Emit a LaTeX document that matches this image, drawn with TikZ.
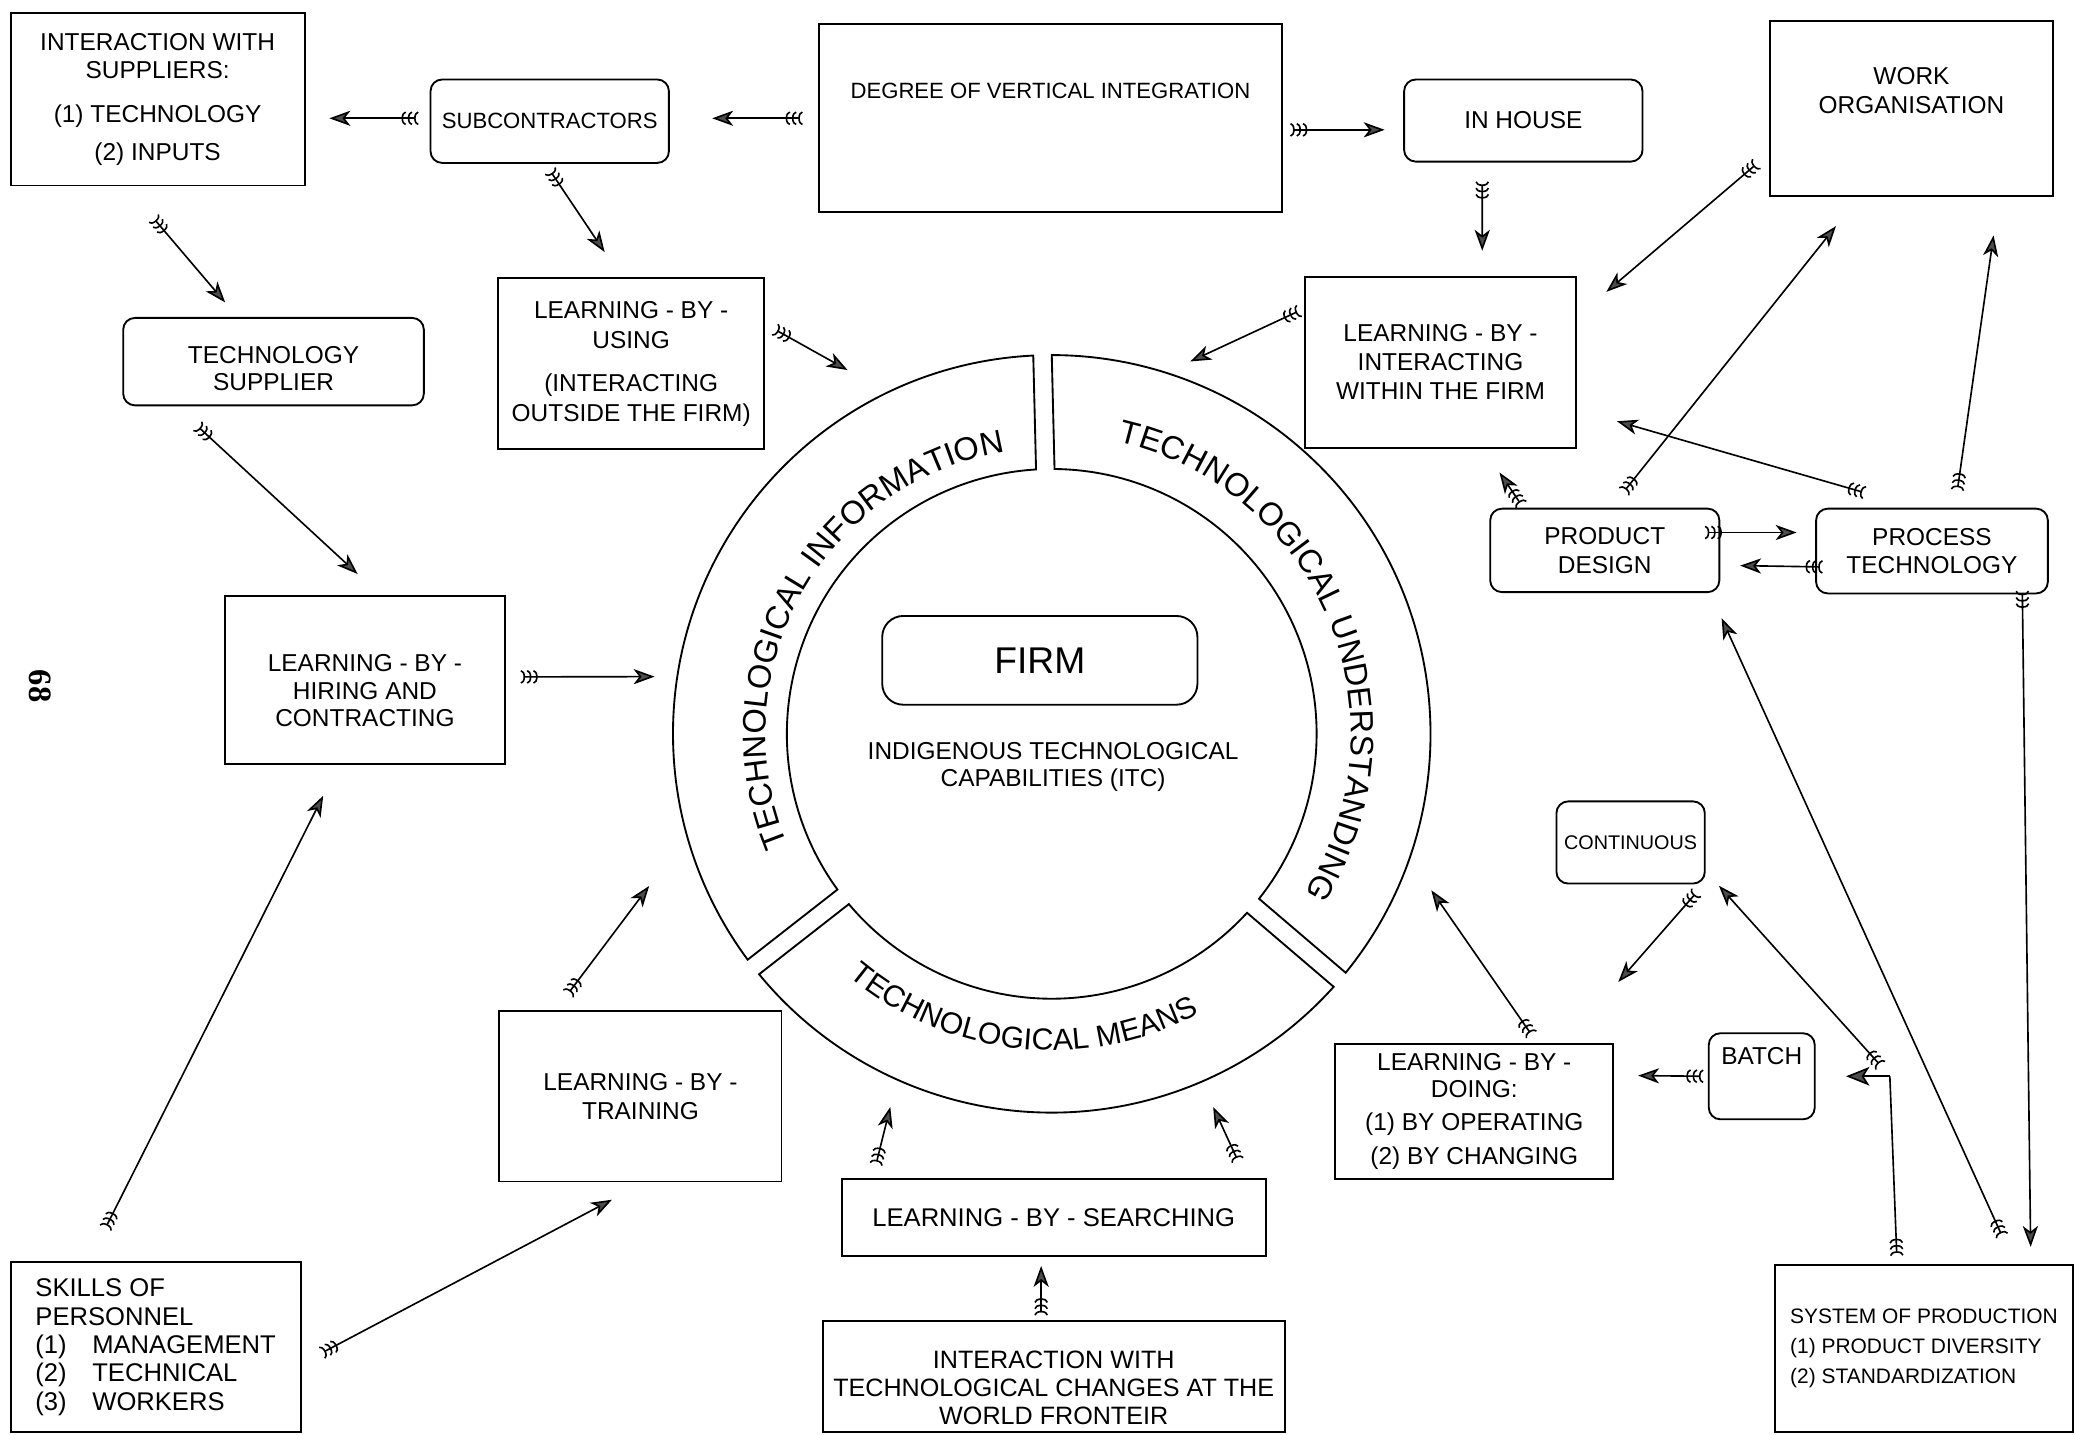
\documentclass[tikz,border=0pt]{standalone}
\usepackage{fontspec}
\setmainfont{Liberation Sans}
\newfontfamily\pgnumfont{Liberation Serif}
\usetikzlibrary{arrows.meta,calc,decorations.text}

\begin{document}
\begin{tikzpicture}[
    x=0.02cm, y=0.02cm,
    box/.style={draw, line width=0.8pt, align=center, inner sep=0pt,
      font=\fontsize{10.5}{12}\selectfont},
    rbox/.style={box, rounded corners=5pt},
    flow/.style={line width=0.7pt, arrows={{Arc Barb[reversed,length=1.8pt,width=6pt,sep=0.9pt]Arc Barb[reversed,length=1.8pt,width=6pt,sep=0.9pt]Arc Barb[reversed,length=1.8pt,width=6pt,sep=0.9pt]}-{Stealth[length=9pt,width=6.5pt,inset=2.5pt,fill=black!70]}}},
    tailonly/.style={line width=0.7pt, arrows={{Arc Barb[reversed,length=1.8pt,width=6pt,sep=0.9pt]Arc Barb[reversed,length=1.8pt,width=6pt,sep=0.9pt]Arc Barb[reversed,length=1.8pt,width=6pt,sep=0.9pt]}-}},
    headonly/.style={line width=0.7pt, arrows={-{Stealth[length=10pt,width=8pt,inset=2.5pt,fill=black!70]}}},
    part/.style={draw, line width=0.8pt},
    ringtext/.style 2 args={decorate, decoration={text along path, text align=center,
      text={|\fontsize{#1}{16}\selectfont|#2}}},
  ]
  \useasboundingbox (0,0) rectangle (1568,-1083);

  \node[box, minimum width=4.44cm, minimum height=2.6cm] (supp) at (119,-75)
    {INTERACTION WITH\\SUPPLIERS:\\[7pt](1) TECHNOLOGY\\[4pt](2) INPUTS};
  \node[rbox, minimum width=3.6cm, minimum height=1.26cm, font=\fontsize{9.5}{11}\selectfont] (subc) at (415,-91.5) {SUBCONTRACTORS};
  \node[box, minimum width=7cm, minimum height=2.84cm, font=\fontsize{9.5}{11}\selectfont,
    text height=7pt, text depth=24pt] (degree) at (793,-89) {DEGREE OF VERTICAL INTEGRATION};
  \node[rbox, minimum width=3.6cm, minimum height=1.24cm] (inhouse) at (1150,-91) {IN HOUSE};
  \node[box, minimum width=4.28cm, minimum height=2.64cm, font=\fontsize{10.5}{12.5}\selectfont,
    text height=20pt, text depth=15.5pt] (workorg) at (1443,-82) {WORK\\ORGANISATION};
  \node[rbox, minimum width=4.54cm, minimum height=1.32cm, font=\fontsize{10.5}{11.5}\selectfont,
    text height=24.5pt, text depth=0pt] (techsup) at (206.5,-273) {TECHNOLOGY\\SUPPLIER};
  \node[box, minimum width=4.02cm, minimum height=2.58cm, font=\fontsize{10.5}{12.9}\selectfont] (lbu) at (476.5,-274.5)
    {LEARNING - BY -\\USING\\[5.5pt](INTERACTING\\OUTSIDE THE FIRM)};
  \node[box, minimum width=4.1cm, minimum height=2.58cm, font=\fontsize{10.5}{12.5}\selectfont] (lbi) at (1087.5,-273.5)
    {LEARNING - BY -\\INTERACTING\\WITHIN THE FIRM};
  \node[box, minimum width=4.22cm, minimum height=2.54cm, font=\fontsize{10.5}{11.8}\selectfont,
    text height=40pt, text depth=0pt] (lbh) at (275.5,-513.5)
    {LEARNING - BY -\\HIRING AND\\CONTRACTING};
  \node[rbox, minimum width=3.46cm, minimum height=1.26cm, font=\fontsize{10.5}{12.2}\selectfont] (design) at (1211.5,-415.5) {PRODUCT\\DESIGN};
  \node[rbox, minimum width=3.5cm, minimum height=1.28cm, font=\fontsize{10.5}{12.2}\selectfont] (process) at (1458.5,-416) {PROCESS\\TECHNOLOGY};
  \node[rbox, minimum width=2.24cm, minimum height=1.24cm, font=\fontsize{8.5}{10}\selectfont] (cont) at (1231,-636) {CONTINUOUS};
  \node[rbox, minimum width=1.6cm, minimum height=1.3cm, text height=7.5pt, text depth=18pt] (batch) at (1330,-812.5) {BATCH};
  \node[box, minimum width=4.2cm, minimum height=2.04cm, font=\fontsize{10.5}{11.5}\selectfont] (lbd) at (1113,-839)
    {LEARNING - BY -\\DOING:\\[3pt](1) BY OPERATING\\[3pt](2) BY CHANGING};
  \node[box, minimum width=4.26cm, minimum height=2.58cm, font=\fontsize{10.5}{12.5}\selectfont] (lbt) at (483.5,-827.5)
    {LEARNING - BY -\\TRAINING};
  \node[box, minimum width=4.38cm, minimum height=2.56cm, align=left, font=\fontsize{11}{12.2}\selectfont] (skills) at (117.5,-1017)
    {SKILLS OF\\PERSONNEL\\(1)\quad MANAGEMENT\\(2)\quad TECHNICAL\\(3)\quad WORKERS};
  \node[box, minimum width=6.4cm, minimum height=1.16cm, font=\fontsize{11}{12}\selectfont] (lbs) at (795.5,-919) {LEARNING - BY - SEARCHING};
  \node[box, minimum width=6.98cm, minimum height=1.68cm, font=\fontsize{10.8}{12}\selectfont,
    text height=41pt, text depth=0pt] (world) at (795.5,-1039)
    {INTERACTION WITH\\TECHNOLOGICAL CHANGES AT THE\\WORLD FRONTEIR};
  \node[box, minimum width=4.5cm, minimum height=2.52cm, align=left, font=\fontsize{9}{13}\selectfont] (system) at (1452.5,-1018)
    {SYSTEM OF PRODUCTION\\(1) PRODUCT DIVERSITY\\(2) STANDARDIZATION};
  \node[rbox, rounded corners=9pt, minimum width=4.76cm, minimum height=1.34cm, font=\fontsize{16}{18}\selectfont] (firm) at (785,-498.5) {FIRM};
  \node[align=center, font=\fontsize{10.5}{12}\selectfont] (itc) at (795,-579) {INDIGENOUS TECHNOLOGICAL\\CAPABILITIES (ITC)};
  \node[rotate=-90, font=\pgnumfont\bfseries\fontsize{14}{14}\selectfont] (page) at (30,-518) {68};

  \coordinate (c) at (794,-554);
  \foreach \a/\b in {91.4/218,218/319.5,319.5/451.4}
    \draw[part] ($(c)+(\a+1.4:5.72cm)$) arc[start angle=\a+1.4, end angle=\b-1.4, radius=5.72cm]
      -- ($(c)+(\b-2:4cm)$) arc[start angle=\b-2, end angle=\a+2, radius=4cm] -- cycle;
  \path[ringtext={14}{TECHNOLOGICAL INFORMATION}] ($(c)+(211:4.32cm)$) arc[start angle=211, end angle=91, radius=4.32cm];
  \path[ringtext={14}{TECHNOLOGICAL UNDERSTANDING}] ($(c)+(87.5:4.52cm)$) arc[start angle=87.5, end angle=-42.5, radius=4.52cm];
  \path[ringtext={13}{TECHNOLOGICAL MEANS}] ($(c)+(214:4.78cm)$) arc[start angle=214, end angle=314, radius=4.78cm];

  \draw[flow] ($(subc.west)+(-7,2.2)$) -- ($(supp.east)+(18,-14.3)$);
  \draw[flow] ($(degree.west)+(-10,-0.3)$) -- ($(subc.east)+(32,2.2)$);
  \draw[flow] ($(degree.east)+(4,-9)$) -- ($(inhouse.west)+(-14,-7)$);
  \draw[flow] ($(supp.south)+(-4,-23)$) -- ($(techsup.north)+(-36.5,11)$);
  \draw[flow] ($(subc.south)+(-0.5,-4)$) -- ($(lbu.north)+(-20,19)$);
  \draw[flow] ($(techsup.south)+(-58.5,-14)$) -- ($(lbh.north)+(-5.5,16)$);
  \draw[flow] ($(lbu.east)+(6,26.5)$) -- ($(c)+(119.3:6.3cm)$);
  \draw[flow] ($(lbh.east)+(10,2.5)$) -- ($(c)+(171.8:6.06cm)$);
  \draw[flow] ($(inhouse.south)+(-31,-13)$) -- ($(lbi.north)+(31.5,19)$);
  \draw[flow] ($(lbi.west)+(-2,39.5)$) -- ($(c)+(69.6:6cm)$);
  \draw[flow] ($(workorg.south west)+(-8,26)$) -- ($(lbi.north east)+(22,-12)$);
  \draw[flow] ($(design.north)+(13.5,11)$) -- ($(workorg.south)+(-57,-22)$);
  \draw[flow] ($(process.north)+(19,12)$) -- ($(workorg.south)+(62,-29)$);
  \draw[flow] ($(process.north)+(-49.5,11)$) -- ($(lbi.east)+(30,-44.5)$);
  \draw[flow] ($(design.north west)+(25,1)$) -- ($(lbi.south)+(44.5,-18)$);
  \draw[flow] ($(design.east)+(-13,13.5)$) -- ($(process.west)+(-14,14)$);
  \draw[flow] ($(process.west)+(7,-12)$) -- ($(design.east)+(15,-11.5)$);
  \draw[flow] ($(process.south east)+(-20,4)$) -- ($(system.north)+(80.5,13)$);
  \draw[flow] ($(system.north)+(59.5,20)$) -- ($(design.south east)+(1,-19)$);
  \coordinate (split) at ($(batch.east)+(56,0)$);
  \draw[tailonly] ($(system.north)+(-20.5,5)$) -- (split);
  \draw[flow] ($(split)+(-6,7)$) -- ($(cont.south east)+(10,-1)$);
  \draw[headonly] (split) -- ($(batch.east)+(23,0)$);
  \draw[flow] ($(batch.west)+(-2,0)$) -- ($(lbd.east)+(18,27)$);
  \draw[flow] ($(cont.south east)+(-6,-5)$) -- ($(lbd.north east)+(3,46)$);
  \draw[flow] ($(lbd.north)+(44,5)$) -- ($(c)+(-22.4:6.2cm)$);
  \draw[flow] ($(lbs.north)+(-134.5,9)$) -- ($(c)+(246.6:6.14cm)$);
  \draw[flow] ($(lbs.north)+(139.5,12)$) -- ($(c)+(293.4:6.14cm)$);
  \draw[flow] ($(world.north)+(-9.5,2)$) -- ($(lbs.south)+(-9.5,-7)$);
  \draw[flow] ($(lbt.north)+(-55.5,11)$) -- ($(c)+(200.7:6.5cm)$);
  \draw[flow] ($(skills.east)+(14,-5)$) -- ($(lbt.south)+(-21.5,-13)$);
  \draw[flow] ($(skills.north)+(-38.5,24)$) -- ($(lbh.south)+(-31.5,-23)$);
\end{tikzpicture}
\end{document}
